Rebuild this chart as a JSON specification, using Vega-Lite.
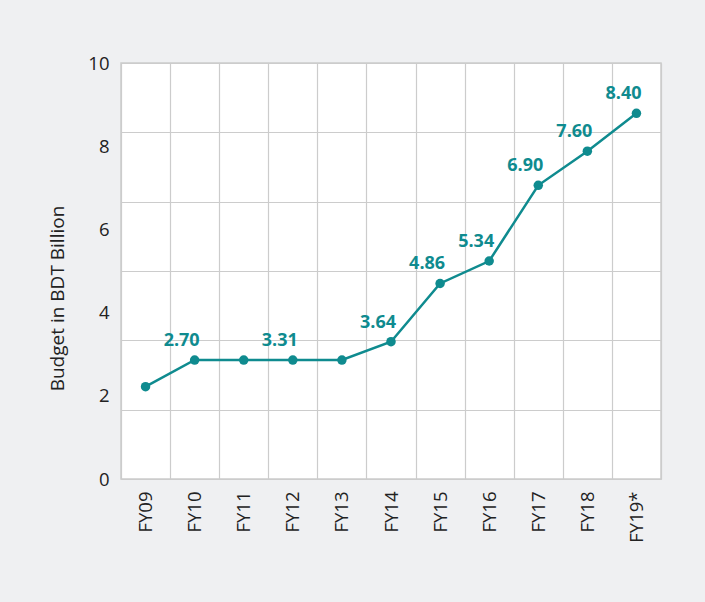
{
  "$schema": "https://vega.github.io/schema/vega-lite/v6.json",
  "autosize": "none",
  "width": 540,
  "height": 416,
  "padding": {"left": 121, "top": 63, "right": 44, "bottom": 123},
  "background": "#eff0f2",
  "config": {
    "view": {"fill": "white", "stroke": "#cccccc", "strokeWidth": 1.5},
    "font": "Open Sans",
    "axis": {"gridColor": "#cccccc", "gridWidth": 1.2, "domain": false, "ticks": false, "labelColor": "#222222", "titleColor": "#222222", "labelFont": "Open Sans", "titleFont": "Open Sans"}
  },
  "data": {
    "values": [
      {"year": "FY09", "value": 2.22, "label": ""},
      {"year": "FY10", "value": 2.86, "label": "2.70"},
      {"year": "FY11", "value": 2.86, "label": ""},
      {"year": "FY12", "value": 2.86, "label": "3.31"},
      {"year": "FY13", "value": 2.86, "label": ""},
      {"year": "FY14", "value": 3.3, "label": "3.64"},
      {"year": "FY15", "value": 4.7, "label": "4.86"},
      {"year": "FY16", "value": 5.24, "label": "5.34"},
      {"year": "FY17", "value": 7.06, "label": "6.90"},
      {"year": "FY18", "value": 7.88, "label": "7.60"},
      {"year": "FY19*", "value": 8.79, "label": "8.40"}
    ]
  },
  "encoding": {
    "x": {
      "field": "year", "type": "nominal", "sort": null,
      "scale": {"type": "band", "paddingInner": 0, "paddingOuter": 0},
      "axis": {"title": null, "labelAngle": -90, "labelFontSize": 18.5, "labelPadding": 12, "tickBand": "extent", "grid": true}
    }
  },
  "layer": [
    {
      "mark": {"type": "line", "color": "#0f8b8f", "strokeWidth": 2.5},
      "encoding": {
        "y": {
          "field": "value", "type": "quantitative",
          "scale": {"domain": [0, 10], "nice": false},
          "axis": {"title": "Budget in BDT Billion", "titleFontSize": 19, "titleFontWeight": "normal", "titlePadding": 20, "titleY": 235, "labelFontSize": 18.5, "labelPadding": 12, "values": [0, 2, 4, 6, 8, 10], "grid": false}
        }
      }
    },
    {
      "mark": {"type": "point", "filled": true, "opacity": 1, "color": "#0f8b8f", "size": 90},
      "encoding": {
        "y": {
          "field": "value", "type": "quantitative",
          "scale": {"domain": [0, 10], "nice": false},
          "axis": {"orient": "right", "title": null, "labels": false, "values": [0, 1.6667, 3.3333, 5, 6.6667, 8.3333, 10], "grid": true}
        }
      }
    },
    {
      "mark": {"type": "text", "color": "#0f8b8f", "fontSize": 18, "fontWeight": "bold", "dx": -13, "dy": -19, "align": "center", "baseline": "middle"},
      "encoding": {
        "y": {"field": "value", "type": "quantitative", "scale": {"domain": [0, 10], "nice": false}, "axis": null},
        "text": {"field": "label"}
      }
    }
  ],
  "resolve": {"scale": {"y": "independent"}}
}
